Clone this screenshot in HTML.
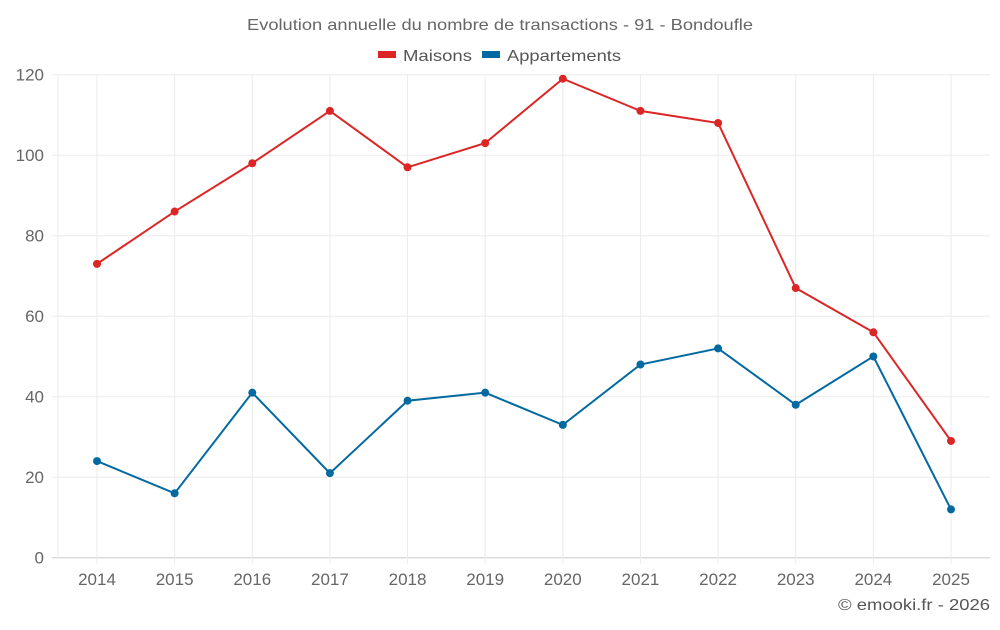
<!DOCTYPE html>
<html><head><meta charset="utf-8"><style>
body{margin:0;background:#fff;font-family:"Liberation Sans",sans-serif;}
svg text{font-family:"Liberation Sans",sans-serif;}
</style></head><body>
<svg width="1000" height="625">
<text x="247" y="30" textLength="506" lengthAdjust="spacingAndGlyphs" font-size="16" fill="#666">Evolution annuelle du nombre de transactions - 91 - Bondoufle</text>
<g>
<g><rect x="378" y="51" width="18" height="7" fill="#dc2626"/><text x="403" y="61" textLength="69" lengthAdjust="spacingAndGlyphs" font-size="16" fill="#555">Maisons</text></g>
<g><rect x="482" y="51" width="18" height="7" fill="#0369a1"/><text x="507" y="61" textLength="114" lengthAdjust="spacingAndGlyphs" font-size="16" fill="#555">Appartements</text></g>
</g>
<g id="grid"></g>
<g id="axes"></g>
<g id="series"></g>
<text x="838" y="610" textLength="152" lengthAdjust="spacingAndGlyphs" font-size="16" fill="#555">© emooki.fr - 2026</text>
</svg>
<script>
const years=[2014,2015,2016,2017,2018,2019,2020,2021,2022,2023,2024,2025];
const maisons=[73,86,98,111,97,103,119,111,108,67,56,29];
const appartements=[24,16,41,21,39,41,33,48,52,38,50,12];
const yTicks=[0,20,40,60,80,100,120];
const NS="http://www.w3.org/2000/svg";
const L=58,R=990,T=74.7,B=557.7;
const x=i=>97+i*(951-97)/(years.length-1);
const y=v=>B-(v/120)*(B-T);
function mk(tag,attrs,parent){const e=document.createElementNS(NS,tag);for(const k in attrs)e.setAttribute(k,attrs[k]);parent.appendChild(e);return e;}
const grid=document.getElementById('grid'),axes=document.getElementById('axes'),series=document.getElementById('series');
yTicks.forEach(v=>{
 const l=mk('line',{x1:52,x2:R,y1:y(v),y2:y(v),stroke:v===0?'#ccc':'#ebebeb'},grid);
 
 
 const t=mk('text',{x:44,y:y(v)+6,'text-anchor':'end','font-size':17,fill:'#666'},axes);
 t.textContent=v;
 
 
});
const vl=mk('line',{x1:L,x2:L,y1:T,y2:B,stroke:'#ebebeb'},grid);


years.forEach((yr,i)=>{
 const l=mk('line',{x1:x(i),x2:x(i),y1:T,y2:B+6,stroke:'#ebebeb'},grid);
 
 
 const t=mk('text',{x:x(i),y:585,'text-anchor':'middle','font-size':17,fill:'#666'},axes);
 t.textContent=yr;
 
 
});
function draw(vals,color,name){
 const p=mk('polyline',{points:vals.map((v,i)=>x(i)+','+y(v)).join(' '),fill:'none',stroke:color,'stroke-width':2},series);
 
 
 vals.forEach((v,i)=>{
  const c=mk('circle',{cx:x(i),cy:y(v),r:4,fill:color},series);
  
  
 });
}
draw(maisons,'#dc2626','maisons');
draw(appartements,'#0369a1','appartements');
</script>
</body></html>
